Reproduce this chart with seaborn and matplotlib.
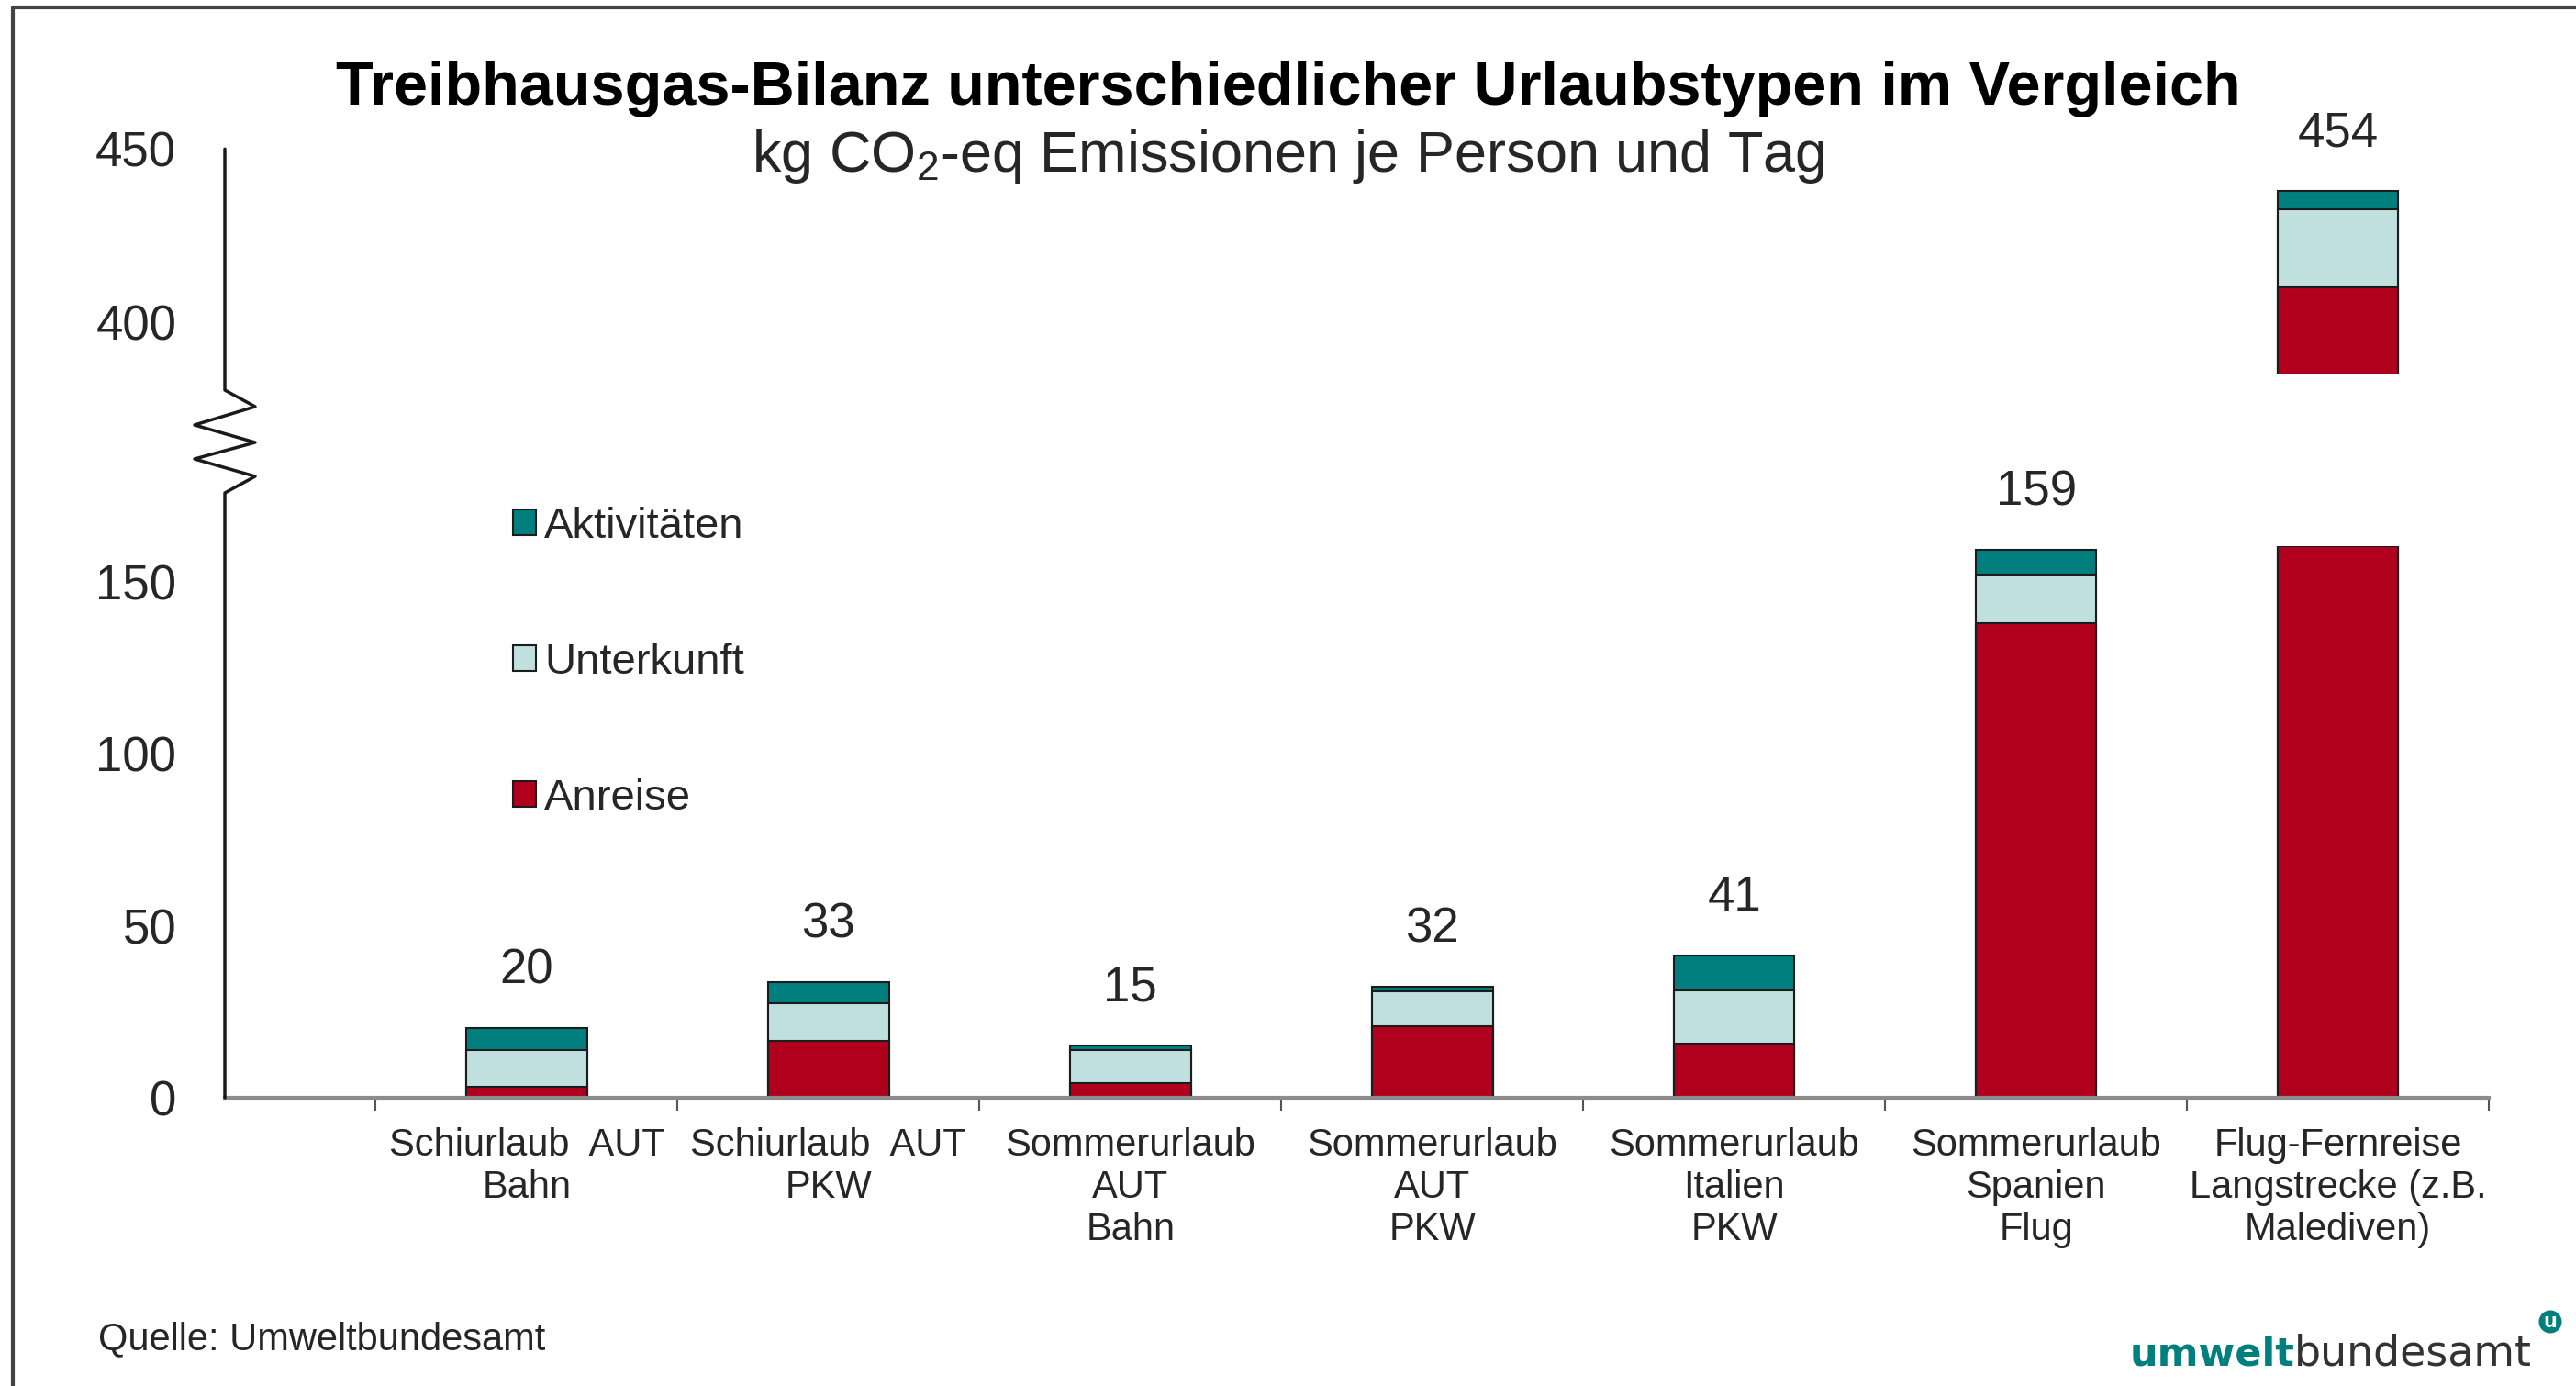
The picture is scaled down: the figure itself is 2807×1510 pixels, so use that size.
import numpy as np
import pandas as pd
import matplotlib.pyplot as plt
from matplotlib.lines import Line2D
from matplotlib.patches import Patch
import seaborn as sns

# data (kg CO2-eq per person and day)
categories = [
    "Schiurlaub  AUT\nBahn",
    "Schiurlaub  AUT\nPKW",
    "Sommerurlaub\nAUT\nBahn",
    "Sommerurlaub\nAUT\nPKW",
    "Sommerurlaub\nItalien\nPKW",
    "Sommerurlaub\nSpanien\nFlug",
    "Flug-Fernreise\nLangstrecke (z.B.\nMalediven)",
]
anreise = [3.3, 16.6, 4.4, 20.9, 15.7, 138.0, 409.9]
unterkunft = [10.5, 10.9, 9.6, 10.0, 15.4, 14.0, 22.7]
aktivitaeten = [6.6, 6.0, 1.3, 1.3, 10.3, 7.2, 5.2]
total_labels = [20, 33, 15, 32, 41, 159, 454]
lower_ticks = [0, 50, 100, 150]
upper_ticks = [400, 450]

# broken axis limits
lo_top = 160.3
hi_bottom = 384.9
hi_top = 450

red = "#b0001e"
light = "#bfe0de"
teal = "#007f7e"
edge = "#1c1c1c"
txt = "#262626"

sns.set_theme(style="white")
plt.rcParams["font.family"] = ["Liberation Sans", "DejaVu Sans"]
plt.rcParams["mathtext.fontset"] = "custom"
plt.rcParams["mathtext.rm"] = "Liberation Sans"
plt.rcParams["mathtext.it"] = "Liberation Sans"

W, H = 2807, 1510


def px_box(left, top, right, bottom):
    return [left / W, 1 - bottom / H, (right - left) / W, (bottom - top) / H]


df = pd.DataFrame({
    "kat": categories,
    "Anreise": anreise,
    "Unterkunft": unterkunft,
    "Aktivitäten": aktivitaeten,
})
df["c1"] = df["Anreise"]
df["c2"] = df["c1"] + df["Unterkunft"]
df["c3"] = df["c2"] + df["Aktivitäten"]

fig = plt.figure(figsize=(W / 100, H / 100), dpi=100)
ax_lo = fig.add_axes(px_box(245, 595, 2712, 1196))
ax_hi = fig.add_axes(px_box(245, 162.3, 2712, 407.7))

layers = [("c3", teal), ("c2", light), ("c1", red)]
hi = df[df["c3"] > hi_bottom]
for col, color in layers:
    sns.barplot(x=df["kat"], y=df[col].clip(upper=lo_top), order=categories,
                color=color, width=0.4, edgecolor=edge, linewidth=1.5,
                saturation=1, ax=ax_lo)
    sns.barplot(x=hi["kat"], y=hi[col] - hi_bottom, order=categories,
                bottom=hi_bottom, color=color, width=0.4, edgecolor=edge,
                linewidth=1.5, saturation=1, ax=ax_hi)

for ax in (ax_lo, ax_hi):
    ax.set_xlim(-1, 6.5)
    ax.set_xlabel("")
    ax.set_ylabel("")
    for s in ax.spines.values():
        s.set_visible(False)
    ax.tick_params(axis="y", length=0, pad=38, labelsize=38, labelcolor=txt)
    ax.set_facecolor("none")

ax_lo.set_ylim(0, lo_top)
ax_hi.set_ylim(hi_bottom, hi_top)
ax_lo.set_yticks(lower_ticks)
ax_hi.set_yticks(upper_ticks)
ax_hi.set_xticks([])

ax_lo.spines["bottom"].set_visible(True)
ax_lo.spines["bottom"].set_color("#8c8c8c")
ax_lo.spines["bottom"].set_linewidth(3)
ax_lo.set_xticks(range(len(categories)), categories)
ax_lo.set_xticks(np.arange(-0.5, len(categories), 1), minor=True)
ax_lo.tick_params(axis="x", which="major", length=0, pad=23, labelsize=30,
                  labelcolor=txt)
ax_lo.tick_params(axis="x", which="minor", length=10, width=1.5,
                  color="#555555", direction="out", bottom=True)
for lbl in ax_lo.get_xticklabels():
    lbl.set_linespacing(1.2)

# totals above the bars
for i, total in enumerate(total_labels):
    top = df["c3"][i]
    ax = ax_hi if top > hi_bottom else ax_lo
    ax.annotate(str(total), (i, top), xytext=(0, 45), textcoords="offset points",
                ha="center", va="center", fontsize=38, color=txt,
                annotation_clip=False)

# y axis with break symbol
yx = [245, 245, 278, 212, 278, 212, 278, 245, 245]
yy = [162.3, 425, 443, 463, 482, 500, 519, 537, 1196]
fig.add_artist(Line2D(np.array(yx) / W, 1 - np.array(yy) / H,
                      transform=fig.transFigure, color="#1a1a1a", lw=2.5))

# outer frame (left and top)
fig.add_artist(Line2D([14 / W, 14 / W, 1], [0, 1 - 8 / H, 1 - 8 / H],
                      transform=fig.transFigure, color="#444444", lw=3))

handles = [
    Patch(facecolor=teal, edgecolor=edge, lw=1.5, label="Aktivitäten"),
    Patch(facecolor=light, edgecolor=edge, lw=1.5, label="Unterkunft"),
    Patch(facecolor=red, edgecolor=edge, lw=1.5, label="Anreise"),
]
fig.legend(handles=handles, loc="upper left", bbox_to_anchor=(559 / W, 1 - 552 / H),
           frameon=False, fontsize=34, handlelength=0.52, handleheight=0.52,
           handletextpad=0.2, labelspacing=2.2, borderpad=0, borderaxespad=0,
           labelcolor=txt)

fig.text(0.5, 1 - 114 / H,
         "Treibhausgas-Bilanz unterschiedlicher Urlaubstypen im Vergleich",
         ha="center", va="baseline", fontsize=48, fontweight="bold", color="black")
fig.text(0.5, 1 - 187 / H, r"kg CO$_2$-eq Emissionen je Person und Tag",
         ha="center", va="baseline", fontsize=45.4, color=txt)

fig.text(107 / W, 1 - 1459 / H, "Quelle: Umweltbundesamt", va="center",
         fontsize=30, color=txt)

fig.text(2500 / W, 1 - 1487 / H, "umwelt", ha="right", va="baseline",
         fontsize=31, fontweight="bold", color=teal, family="DejaVu Sans")
fig.text(2500 / W, 1 - 1487 / H, "bundesamt", ha="left", va="baseline",
         fontsize=33, color="#333333", family="DejaVu Sans")
fig.text(2779 / W, 1 - 1440 / H, "u", ha="center", va="center", fontsize=15,
         color="white", fontweight="bold", family="DejaVu Sans",
         bbox=dict(boxstyle="circle,pad=0.12", fc=teal, ec="none"))

fig.savefig("out.png", dpi=100)
